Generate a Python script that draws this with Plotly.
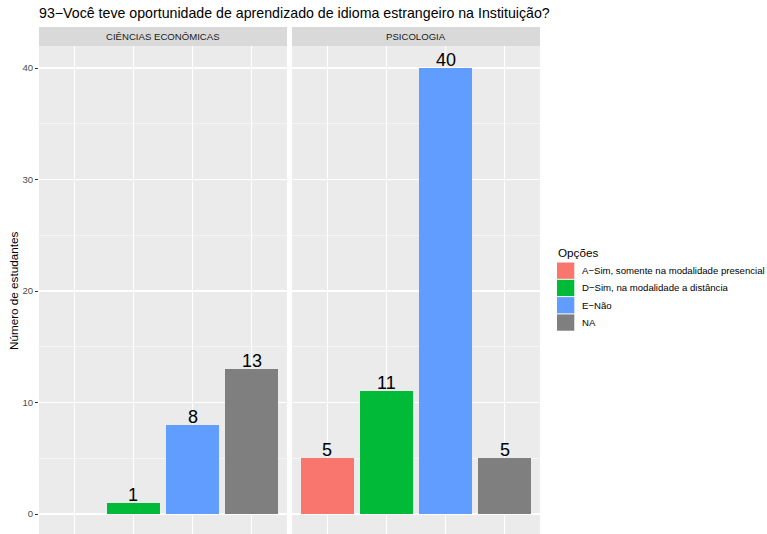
import plotly.graph_objects as go

W, H = 767, 534

categories = ["A−Sim, somente na modalidade presencial",
              "D−Sim, na modalidade a distância",
              "E−Não",
              "NA"]
colors = ["#F8766D", "#00BA38", "#619CFF", "#7F7F7F"]

facets = ["CIÊNCIAS ECONÔMICAS", "PSICOLOGIA"]
econ_cats = ["D−Sim, na modalidade a distância", "E−Não", "NA"]
econ_vals = [1, 8, 13]
psico_cats = categories
psico_vals = [5, 11, 40, 5]

y_ticks = [0, 10, 20, 30, 40]
y_minor = [5, 15, 25, 35]

title = "93−Você teve oportunidade de aprendizado de idioma estrangeiro na Instituição?"
ytitle = "Número de estudantes"
legend_title = "Opções"

FONT = "Liberation Sans, Arial, Helvetica, sans-serif"

def px_x(p):
    return p / W

def px_y(p):
    return 1 - p / H

# panel geometry (pixels)
panels_x = [(39, 287), (292, 540)]
panel_top = 46
strip_top = 27
y_zero_px = 514
y40_px = 68
unit = (y_zero_px - y40_px) / 40.0
y_lo = -(H - y_zero_px) / unit
y_hi = (y_zero_px - panel_top) / unit

fig = go.Figure()
data = [(econ_cats, econ_vals), (psico_cats, psico_vals)]
for i, (cats, vals) in enumerate(data):
    xs = [categories.index(c) + 1 for c in cats]
    cols = [colors[categories.index(c)] for c in cats]
    axis_suffix = "" if i == 0 else str(i + 1)
    fig.add_trace(go.Bar(
        x=xs, y=vals, width=0.9, marker=dict(color=cols, line=dict(width=0)),
        xaxis="x" + axis_suffix, yaxis="y" + axis_suffix, showlegend=False,
        hoverinfo="skip"))
    for x, v in zip(xs, vals):
        fig.add_annotation(x=x, y=v, xref="x" + axis_suffix, yref="y" + axis_suffix,
                           text=str(v), showarrow=False, yanchor="bottom",
                           yshift=-4, font=dict(family=FONT, size=18, color="#000000"))

axis_common = dict(range=[0.4, 4.6], tickvals=[1, 2, 3, 4], showticklabels=False,
                   ticks="", showgrid=True, gridcolor="#FFFFFF", gridwidth=1.1,
                   zeroline=False, showline=False, fixedrange=True)
yaxis_common = dict(range=[y_lo, y_hi], tickvals=y_ticks, showgrid=True,
                    gridcolor="#FFFFFF", gridwidth=1.1, zeroline=False, showline=False,
                    minor=dict(tickvals=y_minor, showgrid=True, gridcolor="#FFFFFF",
                               gridwidth=0.5, ticks=""),
                    domain=[0, px_y(panel_top)], fixedrange=True)

layout = dict(
    width=W, height=H, autosize=False,
    margin=dict(l=0, r=0, t=0, b=0),
    paper_bgcolor="#FFFFFF", plot_bgcolor="#EBEBEB",
    bargap=0, showlegend=False,
    font=dict(family=FONT, color="#1A1A1A"),
)
layout["xaxis"] = dict(axis_common, domain=[px_x(panels_x[0][0]), px_x(panels_x[0][1])], anchor="y")
layout["xaxis2"] = dict(axis_common, domain=[px_x(panels_x[1][0]), px_x(panels_x[1][1])], anchor="y2")
layout["yaxis"] = dict(yaxis_common, anchor="x", ticks="outside", ticklen=3, tickwidth=1,
                       tickcolor="#333333", showticklabels=True,
                       tickfont=dict(family=FONT, size=9.6, color="#4D4D4D"))
layout["yaxis2"] = dict(yaxis_common, anchor="x2", showticklabels=False, ticks="")
fig.update_layout(**layout)

shapes = []
annotations = []
# strips
for (x0, x1), name in zip(panels_x, facets):
    shapes.append(dict(type="rect", xref="paper", yref="paper",
                       x0=px_x(x0), x1=px_x(x1), y0=px_y(panel_top), y1=px_y(strip_top),
                       fillcolor="#D9D9D9", line=dict(width=0), layer="below"))
    annotations.append(dict(xref="paper", yref="paper", x=px_x((x0 + x1) / 2),
                            y=px_y((strip_top + panel_top) / 2), text=name, showarrow=False,
                            xanchor="center", yanchor="middle",
                            font=dict(family=FONT, size=9.6, color="#1A1A1A")))
# title
annotations.append(dict(xref="paper", yref="paper", x=px_x(37), y=px_y(13), text=title,
                        showarrow=False, xanchor="left", yanchor="middle",
                        font=dict(family=FONT, size=14.2, color="#000000")))
# y title
annotations.append(dict(xref="paper", yref="paper", x=px_x(13), y=px_y(291), text=ytitle,
                        showarrow=False, xanchor="center", yanchor="middle", textangle=-90,
                        font=dict(family=FONT, size=11.7, color="#000000")))
# legend
annotations.append(dict(xref="paper", yref="paper", x=px_x(556), y=px_y(252), text=legend_title,
                        showarrow=False, xanchor="left", yanchor="middle",
                        font=dict(family=FONT, size=11.7, color="#000000")))
key = 17.3
ky0 = 262
for i, (c, col) in enumerate(zip(categories, colors)):
    y0 = ky0 + i * key
    shapes.append(dict(type="rect", xref="paper", yref="paper",
                       x0=px_x(557), x1=px_x(557 + key), y0=px_y(y0 + key - 0.5), y1=px_y(y0 + 0.5),
                       fillcolor=col, line=dict(width=0)))
    annotations.append(dict(xref="paper", yref="paper", x=px_x(580), y=px_y(y0 + key / 2),
                            text=c, showarrow=False, xanchor="left", yanchor="middle",
                            font=dict(family=FONT, size=9.6, color="#000000")))

fig.update_layout(shapes=shapes, annotations=list(fig.layout.annotations) + annotations)
fig.write_html("out.html", config=dict(displayModeBar=False, staticPlot=True),
               post_script="document.body.style.margin='0';document.body.style.overflow='hidden';")
